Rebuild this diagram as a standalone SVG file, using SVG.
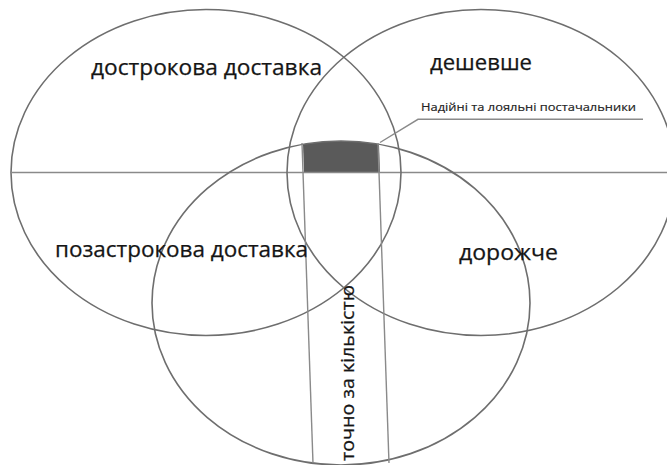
<svg xmlns="http://www.w3.org/2000/svg" width="667" height="465" viewBox="0 0 667 465">
  <style>
    .ring { fill: none; stroke: #6e6e6e; stroke-width: 1.6; }
    .rule { fill: none; stroke: #8a8a8a; stroke-width: 1.4; }
    .lbl { font-family: "Open Sans", "Noto Sans", "DejaVu Sans", sans-serif; fill: #151515; stroke: #151515; stroke-width: 0.25; }
    .big { font-size: 21px; }
    .small { font-size: 10.5px; fill: #222222; stroke: #222222; stroke-width: 0.15; }
  </style>
  <rect x="0" y="0" width="667" height="465" fill="#ffffff"/>

  <!-- shaded overlap block: bounded by the strip edges, the axis and the lower ellipse -->
  <g id="overlap-block">
    <path d="M303,144.3 A189,162 0 0 1 379,144.3 L380,172.5 L304,172.5 Z" fill="#5a5a5a"/>
  </g>

  <!-- horizontal axis -->
  <g id="axis">
    <line class="rule" x1="12" y1="172.5" x2="667" y2="172.5"/>
  </g>

  <g id="ellipse-left">
    <ellipse class="ring" cx="206" cy="172.5" rx="195" ry="163"/>
  </g>
  <g id="ellipse-right">
    <ellipse class="ring" cx="481" cy="172.5" rx="194" ry="163"/>
  </g>
  <g id="ellipse-bottom">
    <ellipse class="ring" cx="341" cy="303" rx="189" ry="162"/>
  </g>

  <!-- vertical strip -->
  <g id="strip">
    <line class="rule" x1="302" y1="143" x2="313" y2="463"/>
    <line class="rule" x1="378" y1="143" x2="389" y2="463"/>
  </g>

  <g id="connectors">
    <polyline class="rule" points="380,142.5 418,119.3 643,119.3"/>
  </g>

  <g id="label-early">
    <text class="lbl big" x="91" y="75" textLength="231" lengthAdjust="spacingAndGlyphs">дострокова доставка</text>
  </g>
  <g id="label-cheaper">
    <text class="lbl big" x="430" y="70" textLength="102" lengthAdjust="spacingAndGlyphs">дешевше</text>
  </g>
  <g id="label-late">
    <text class="lbl big" x="55" y="257" textLength="253" lengthAdjust="spacingAndGlyphs">позастрокова доставка</text>
  </g>
  <g id="label-dearer">
    <text class="lbl big" x="459" y="260" textLength="99" lengthAdjust="spacingAndGlyphs">дорожче</text>
  </g>
  <g id="label-quantity">
    <text class="lbl" font-size="17.5" transform="translate(354,461) rotate(-90)" x="0" y="0" textLength="176" lengthAdjust="spacingAndGlyphs">точно за кількістю</text>
  </g>
  <g id="label-suppliers">
    <text class="lbl small" x="421" y="110.5" textLength="215" lengthAdjust="spacingAndGlyphs">Надійні та лояльні постачальники</text>
  </g>
</svg>
